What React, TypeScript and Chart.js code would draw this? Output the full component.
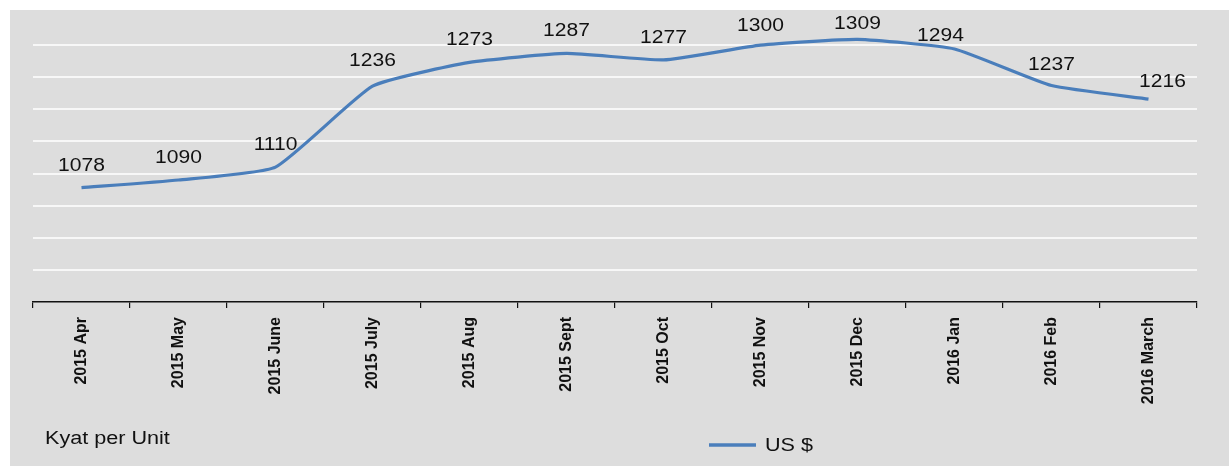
import React, { useEffect, useRef } from "react";
import { Chart, registerables } from "chart.js";

Chart.register(...registerables);

const categories = [
  "2015 Apr", "2015 May", "2015 June", "2015 July", "2015 Aug", "2015 Sept",
  "2015 Oct", "2015 Nov", "2015 Dec", "2016 Jan", "2016 Feb", "2016 March",
];
const usdValues = [1078, 1090, 1110, 1236, 1273, 1287, 1277, 1300, 1309, 1294, 1237, 1216];
const seriesName = "US $";
const unitLabel = "Kyat per Unit";
const yMin = 900;
const yMax = 1350;
const yStep = 50;

// small label nudges (dx, dy in px) to mimic hand-placed labels
const labelNudgeX = [0, 0, 0, 0, 0, 0, 0, 0, 0, -14, 0, 14];
const labelNudgeY = [0, 0, 0, -3, 0, 0, 0, 3, 7, 9, 1, 5];

const W = 1229;
const H = 466;
const FONT = '"Liberation Sans", Arial, Helvetica, sans-serif';
const STRETCH = 1.17;

const decorPlugin = {
  id: "decor",
  beforeDraw(chart: any) {
    const ctx = chart.ctx;
    ctx.save();
    ctx.fillStyle = "#ffffff";
    ctx.fillRect(0, 0, W, H);
    ctx.fillStyle = "#dddddd";
    ctx.fillRect(10, 10, W - 10, H - 10);
    ctx.restore();
  },
  afterDatasetsDraw(chart: any) {
    const ctx = chart.ctx;
    const meta = chart.getDatasetMeta(0);
    ctx.save();
    ctx.fillStyle = "#111111";
    ctx.font = `18px ${FONT}`;
    ctx.textAlign = "center";
    ctx.textBaseline = "alphabetic";
    meta.data.forEach((pt: any, i: number) => {
      ctx.save();
      ctx.translate(pt.x + labelNudgeX[i], pt.y - 17 + labelNudgeY[i]);
      ctx.scale(STRETCH, 1);
      ctx.fillText(String(usdValues[i]), 0, 0);
      ctx.restore();
    });
    ctx.restore();
  },
  afterDraw(chart: any) {
    const ctx = chart.ctx;
    ctx.save();
    ctx.fillStyle = "#111111";
    ctx.font = `18px ${FONT}`;
    ctx.textAlign = "left";
    ctx.textBaseline = "alphabetic";
    ctx.save();
    ctx.translate(45, 444);
    ctx.scale(1.2, 1);
    ctx.fillText(unitLabel, 0, 0);
    ctx.restore();
    // legend
    ctx.strokeStyle = "#4a7ebb";
    ctx.lineWidth = 3.5;
    ctx.beginPath();
    ctx.moveTo(709, 445);
    ctx.lineTo(756, 445);
    ctx.stroke();
    ctx.save();
    ctx.translate(765, 451);
    ctx.scale(1.2, 1);
    ctx.fillText(seriesName, 0, 0);
    ctx.restore();
    ctx.restore();
  },
};

export default function App() {
  const ref = useRef<HTMLCanvasElement | null>(null);
  useEffect(() => {
    document.body.style.margin = "0";
    const canvas = ref.current!;
    const chart = new Chart(canvas, {
      type: "line",
      data: {
        labels: categories,
        datasets: [
          {
            label: seriesName,
            data: usdValues,
            borderColor: "#4a7ebb",
            backgroundColor: "#4a7ebb",
            borderWidth: 3.2,
            tension: 0.15,
            pointRadius: 0,
            pointHoverRadius: 0,
            fill: false,
          },
        ],
      },
      options: {
        responsive: false,
        animation: false,
        devicePixelRatio: 1,
        layout: { padding: { left: 33, right: 32, top: 13, bottom: 0 } },
        plugins: {
          legend: { display: false },
          tooltip: { enabled: false },
          title: { display: false },
        },
        scales: {
          x: {
            type: "category",
            offset: true,
            grid: {
              display: true,
              offset: true,
              drawOnChartArea: false,
              drawTicks: true,
              tickLength: 6,
              color: "#111111",
              lineWidth: 1.2,
            },
            border: { display: true, color: "#111111", width: 1.5 },
            ticks: {
              autoSkip: false,
              minRotation: 90,
              maxRotation: 90,
              padding: 9,
              color: "#111111",
              font: { family: FONT, size: 16, weight: "bold" },
            },
            afterFit(scale: any) {
              scale.height = H - 302;
            },
          },
          y: {
            min: yMin,
            max: yMax,
            ticks: { display: false, stepSize: yStep },
            border: { display: false },
            grid: {
              drawTicks: false,
              lineWidth: 2,
              color: (c: any) =>
                c.tick && (c.tick.value === yMax || c.tick.value === yMin)
                  ? "rgba(0,0,0,0)"
                  : "#f7f7f7",
            },
            afterFit(scale: any) {
              scale.width = 0;
            },
          },
        },
      },
      plugins: [decorPlugin],
    });
    return () => chart.destroy();
  }, []);
  return (
    <div style={{ position: "absolute", left: 0, top: 0, width: W, height: H }}>
      <canvas ref={ref} width={W} height={H} style={{ display: "block" }} />
    </div>
  );
}
